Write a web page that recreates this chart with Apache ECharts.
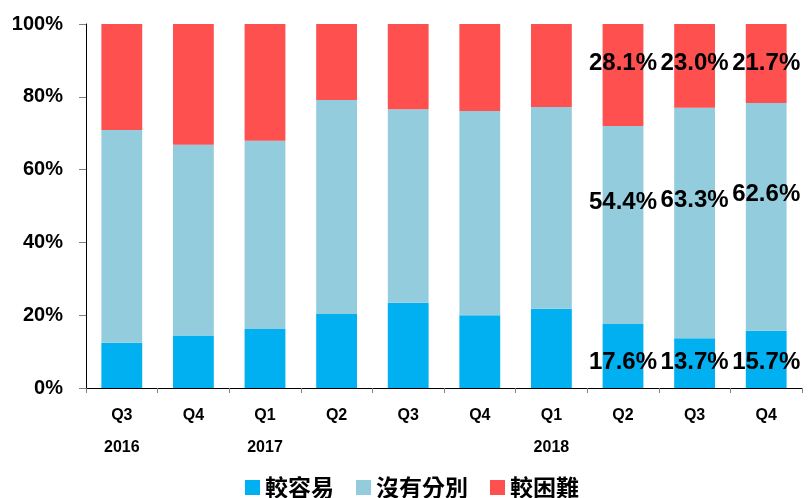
<!DOCTYPE html>
<html>
<head>
<meta charset="utf-8">
<script src="https://cdn.jsdelivr.net/npm/echarts@6/dist/echarts.min.js"></script>
<style>
  html, body { margin: 0; padding: 0; background: #fff; }
  #mychart { width: 811px; height: 498px; }
</style>
</head>
<body>
<div id="mychart"></div>
<script>
// quarters and the year shown under some of them
var quarters = ['Q3', 'Q4', 'Q1', 'Q2', 'Q3', 'Q4', 'Q1', 'Q2', 'Q3', 'Q4'];
var years = ['2016', '', '2017', '', '', '', '2018', '', '', ''];

// 較容易 / 沒有分別 / 較困難 (%)
var easier = [12.4, 14.4, 16.2, 20.3, 23.4, 20.0, 21.8, 17.6, 13.7, 15.7];
var noDiff = [58.5, 52.4, 51.7, 58.8, 53.2, 56.1, 55.4, 54.4, 63.3, 62.6];
var harder = [29.1, 33.2, 32.1, 20.9, 23.4, 23.9, 22.8, 28.1, 23.0, 21.7];

// only the last three quarters carry value labels
var labelFrom = 7;

var fontLatin = 'Arial, "Liberation Sans", sans-serif';
var fontCjk = '"Noto Sans CJK TC", "Noto Sans CJK SC", sans-serif';

function withLabels(values, position, distance, offset) {
    return values.map(function (v, i) {
        if (i < labelFrom) return v;
        return {
            value: v,
            label: {
                show: true,
                position: position,
                distance: distance,
                offset: offset,
                formatter: v.toFixed(1) + '%',
                color: '#000',
                fontSize: 24,
                fontWeight: 'bold',
                fontFamily: fontLatin
            }
        };
    });
}

var myChart = echarts.init(document.getElementById('mychart'));
var option = {
    animation: false,
    grid: { left: 86, right: 9, top: 24, bottom: 110 },
    legend: {
        data: ['較容易', '沒有分別', '較困難'],
        left: 240,
        top: 471,
        itemWidth: 15,
        itemHeight: 15,
        itemGap: 22,
        icon: 'rect',
        textStyle: {
            fontSize: 23,
            fontWeight: 'bold',
            fontFamily: fontCjk,
            color: '#000'
        }
    },
    xAxis: {
        type: 'category',
        data: quarters,
        axisLine: { lineStyle: { color: '#000', width: 1 } },
        axisTick: { show: true, length: 5, lineStyle: { color: '#808080' } },
        axisLabel: {
            interval: 0,
            margin: 12,
            lineHeight: 32,
            fontSize: 16,
            fontWeight: 'bold',
            fontFamily: fontLatin,
            color: '#000',
            formatter: function (val, idx) {
                return val + '\n' + years[idx];
            }
        }
    },
    yAxis: {
        type: 'value',
        min: 0,
        max: 100,
        interval: 20,
        splitLine: { show: false },
        axisLine: { show: true, lineStyle: { color: '#000', width: 1 } },
        axisTick: { show: true, length: 7, lineStyle: { color: '#808080' } },
        axisLabel: {
            margin: 23,
            fontSize: 20,
            fontWeight: 'bold',
            fontFamily: fontLatin,
            color: '#000',
            formatter: '{value}%'
        }
    },
    series: [
        {
            name: '較容易',
            type: 'bar',
            stack: 'total',
            barCategoryGap: '43%',
            color: '#00B0F0',
            data: withLabels(easier, 'insideBottom', 14, [0, 0])
        },
        {
            name: '沒有分別',
            type: 'bar',
            stack: 'total',
            color: '#93CDDD',
            // middle labels sit a little above centre, as in the source
            data: withLabels(noDiff, 'inside', 0, [0, -23])
        },
        {
            name: '較困難',
            type: 'bar',
            stack: 'total',
            color: '#FF5050',
            data: withLabels(harder, 'insideTop', 27, [0, 0])
        }
    ]
};
myChart.setOption(option);
window.addEventListener('resize', function () {
    myChart.resize();
});
</script>
</body>
</html>
